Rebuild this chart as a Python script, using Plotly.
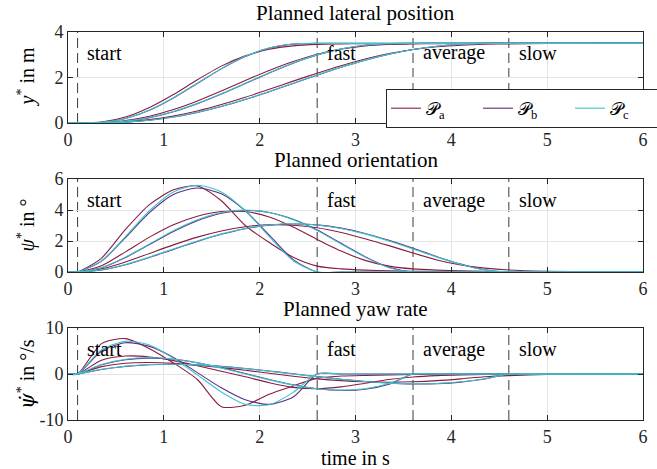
import plotly.graph_objects as go

# ---------------- data ----------------
T = [0, 0.1, 0.35, 0.6, 0.85, 1.1, 1.35, 1.6, 1.85, 2.1, 2.35, 2.6, 2.85, 3.1,
     3.35, 3.6, 3.85, 4.1, 4.35, 4.6, 5.0, 5.5, 6.0]

PLANNERS = ["a", "b", "c"]
PHASE_TIMES = [0.1, 2.6, 3.6, 4.6]
PHASE_LABELS = ["start", "fast", "average", "slow"]
X_TICKS = [0, 1, 2, 3, 4, 5, 6]

# lateral position y* in m
Y_FAST_A = [0, 0, 0.04, 0.26, 0.68, 1.25, 1.90, 2.50, 2.95, 3.24, 3.39, 3.455, 3.475, 3.487, 3.493, 3.497, 3.499, 3.5, 3.5, 3.5, 3.5, 3.5, 3.5]
Y_FAST_B = [0, 0, 0.03, 0.20, 0.56, 1.10, 1.74, 2.38, 2.92, 3.29, 3.465, 3.5, 3.5, 3.5, 3.5, 3.5, 3.5, 3.5, 3.5, 3.5, 3.5, 3.5, 3.5]
Y_FAST_C = [0, 0, 0.03, 0.20, 0.57, 1.11, 1.75, 2.39, 2.93, 3.30, 3.47, 3.5, 3.5, 3.5, 3.5, 3.5, 3.5, 3.5, 3.5, 3.5, 3.5, 3.5, 3.5]
Y_AVG_A = [0, 0, 0.016, 0.105, 0.295, 0.59, 0.97, 1.41, 1.87, 2.31, 2.70, 3.02, 3.25, 3.39, 3.455, 3.48, 3.49, 3.495, 3.498, 3.5, 3.5, 3.5, 3.5]
Y_AVG_B = [0, 0, 0.010, 0.078, 0.236, 0.496, 0.848, 1.272, 1.735, 2.2, 2.628, 2.987, 3.252, 3.416, 3.488, 3.5, 3.5, 3.5, 3.5, 3.5, 3.5, 3.5, 3.5]
Y_AVG_C = [0, 0, 0.011, 0.081, 0.243, 0.507, 0.862, 1.288, 1.75, 2.212, 2.638, 2.994, 3.257, 3.419, 3.489, 3.5, 3.5, 3.5, 3.5, 3.5, 3.5, 3.5, 3.5]
Y_SLOW_A = [0, 0, 0.008, 0.052, 0.150, 0.31, 0.53, 0.81, 1.13, 1.48, 1.84, 2.19, 2.52, 2.81, 3.05, 3.23, 3.35, 3.42, 3.46, 3.48, 3.493, 3.499, 3.5]
Y_SLOW_B = [0, 0, 0.005, 0.038, 0.120, 0.261, 0.464, 0.725, 1.034, 1.377, 1.74, 2.103, 2.448, 2.759, 3.024, 3.231, 3.375, 3.459, 3.495, 3.5, 3.5, 3.5, 3.5]
Y_SLOW_C = [0, 0, 0.0055, 0.040, 0.124, 0.267, 0.472, 0.735, 1.045, 1.388, 1.75, 2.112, 2.456, 2.765, 3.028, 3.233, 3.376, 3.460, 3.495, 3.5, 3.5, 3.5, 3.5]

# orientation psi* in deg
PSI_FAST_A = [0, 0, 0.9, 2.75, 4.35, 5.3, 5.55, 4.6, 3.0, 1.9, 0.95, 0.38, 0.2, 0.12, 0.08, 0.05, 0.03, 0.02, 0.01, 0, 0, 0, 0]
PSI_FAST_B = [0, 0, 0.70, 2.22, 3.83, 5.0, 5.42, 5.05, 3.95, 2.38, 0.80, 0, 0, 0, 0, 0, 0, 0, 0, 0, 0, 0, 0]
PSI_FAST_C = [0, 0, 0.73, 2.29, 3.95, 5.16, 5.60, 5.16, 3.95, 2.29, 0.73, 0, 0, 0, 0, 0, 0, 0, 0, 0, 0, 0, 0]
PSI_AVG_A = [0, 0, 0.4, 1.3, 2.25, 3.05, 3.6, 3.9, 3.9, 3.55, 2.9, 2.1, 1.35, 0.75, 0.38, 0.2, 0.12, 0.07, 0.04, 0.02, 0, 0, 0]
PSI_AVG_B = [0, 0, 0.27, 0.93, 1.77, 2.61, 3.31, 3.79, 3.97, 3.84, 3.40, 2.71, 1.85, 0.99, 0.30, 0, 0, 0, 0, 0, 0, 0, 0]
PSI_AVG_C = [0, 0, 0.28, 0.96, 1.81, 2.67, 3.37, 3.84, 4.0, 3.84, 3.37, 2.67, 1.81, 0.96, 0.28, 0, 0, 0, 0, 0, 0, 0, 0]
PSI_SLOW_A = [0, 0, 0.2, 0.65, 1.2, 1.75, 2.25, 2.65, 2.92, 3.05, 3.02, 2.85, 2.55, 2.15, 1.7, 1.22, 0.78, 0.45, 0.25, 0.13, 0.05, 0.01, 0]
PSI_SLOW_B = [0, 0, 0.13, 0.47, 0.94, 1.46, 1.97, 2.43, 2.79, 3.02, 3.10, 3.04, 2.83, 2.49, 2.04, 1.53, 0.99, 0.51, 0.15, 0, 0, 0, 0]
PSI_SLOW_C = [0, 0, 0.14, 0.49, 0.96, 1.49, 2.0, 2.46, 2.81, 3.03, 3.11, 3.03, 2.81, 2.46, 2.0, 1.49, 0.96, 0.49, 0.14, 0, 0, 0, 0]

# yaw rate dpsi* in deg/s
DPSI_FAST_A = [0, 0, 6.6, 7.7, 5.5, 2.4, -1.2, -7.1, -6.8, -4.4, -2.6, -0.9, -0.45, -0.3, -0.2, -0.12, -0.07, -0.04, -0.02, 0, 0, 0, 0]
DPSI_FAST_B = [0, 0, 5.0, 6.8, 6.0, 3.6, 0.3, -3.0, -5.6, -6.6, -5.0, 0, 0, 0, 0, 0, 0, 0, 0, 0, 0, 0, 0]
DPSI_FAST_C = [0, 0, 5.3, 7.1, 6.3, 3.4, -0.2, -3.9, -6.6, -6.7, -4.0, 0, 0, 0, 0, 0, 0, 0, 0, 0, 0, 0, 0]
DPSI_AVG_A = [0, 0, 3.0, 3.9, 3.7, 2.9, 1.8, 0.6, -0.6, -1.9, -2.9, -3.2, -2.8, -2.0, -1.2, -0.65, -0.35, -0.2, -0.1, -0.05, 0, 0, 0]
DPSI_AVG_B = [0, 0, 2.0, 3.1, 3.45, 3.2, 2.45, 1.35, 0.1, -1.2, -2.35, -3.2, -3.55, -3.3, -2.2, 0, 0, 0, 0, 0, 0, 0, 0]
DPSI_AVG_C = [0, 0, 2.08, 3.21, 3.53, 3.21, 2.41, 1.28, 0, -1.28, -2.41, -3.21, -3.53, -3.21, -2.08, 0, 0, 0, 0, 0, 0, 0, 0]
DPSI_SLOW_A = [0, 0, 1.6, 2.35, 2.5, 2.3, 1.9, 1.4, 0.8, 0.15, -0.5, -1.05, -1.45, -1.7, -1.8, -1.7, -1.45, -1.05, -0.6, -0.35, -0.12, -0.03, 0]
DPSI_SLOW_B = [0, 0, 0.98, 1.65, 2.02, 2.12, 1.99, 1.67, 1.21, 0.65, 0.05, -0.56, -1.13, -1.62, -1.98, -2.16, -2.1, -1.76, -1.1, 0, 0, 0, 0]
DPSI_SLOW_C = [0, 0, 1.03, 1.70, 2.05, 2.13, 1.98, 1.64, 1.17, 0.61, 0, -0.61, -1.17, -1.64, -1.98, -2.13, -2.05, -1.70, -1.03, 0, 0, 0, 0]

Y_TICKS = [[0, 2, 4], [0, 2, 4, 6], [-10, 0, 10]]
Y_TICKTEXT = [["0", "2", "4"], ["0", "2", "4", "6"], ["-10", "0", "10"]]
Y_RANGES = [[0, 4], [0, 6], [-10, 10]]
TITLES = ["Planned lateral position", "Planned orientation", "Planned yaw rate"]
YLABELS = ["<i>y</i><sup>*</sup> in m", "<i>ψ</i><sup>*</sup> in °",
           "<span style='font-family:DejaVu Serif'><i>ψ̇</i></span><sup>*</sup> in °/s"]

PANELS = [
    {"a": [Y_FAST_A, Y_AVG_A, Y_SLOW_A], "b": [Y_FAST_B, Y_AVG_B, Y_SLOW_B], "c": [Y_FAST_C, Y_AVG_C, Y_SLOW_C]},
    {"a": [PSI_FAST_A, PSI_AVG_A, PSI_SLOW_A], "b": [PSI_FAST_B, PSI_AVG_B, PSI_SLOW_B], "c": [PSI_FAST_C, PSI_AVG_C, PSI_SLOW_C]},
    {"a": [DPSI_FAST_A, DPSI_AVG_A, DPSI_SLOW_A], "b": [DPSI_FAST_B, DPSI_AVG_B, DPSI_SLOW_B], "c": [DPSI_FAST_C, DPSI_AVG_C, DPSI_SLOW_C]},
]

# ---------------- style ----------------
COLORS = {"a": "#8a1c3e", "b": "#5e2d82", "c": "#3ec3cc"}
FONT = "Liberation Serif"
AX = "#262626"
W, H = 657, 469
L, R, TOP, BOT = 68, 643, 32, 420
PANEL_PX = [(32, 123), (179, 272), (328, 420)]
ph = BOT - TOP


def ydom(p):
    return [(BOT - p[1]) / ph, (BOT - p[0]) / ph]


fig = go.Figure()
for i, panel in enumerate(PANELS):
    xa = "x" if i == 0 else f"x{i+1}"
    ya = "y" if i == 0 else f"y{i+1}"
    for p in PLANNERS:
        for k, vals in enumerate(panel[p]):
            fig.add_trace(go.Scatter(
                x=T, y=vals, mode="lines", xaxis=xa, yaxis=ya,
                line=dict(color=COLORS[p], width=1.1, shape="spline", smoothing=0.7),
                name=f"𝒫<sub>{p}</sub>", legendgroup=p,
                showlegend=(i == 0 and k == 0), hoverinfo="skip"))

layout = dict(
    width=W, height=H, margin=dict(l=L, r=W - R, t=TOP, b=H - BOT, autoexpand=False),
    paper_bgcolor="white", plot_bgcolor="white",
    font=dict(family=FONT, size=18, color=AX),
    legend=dict(orientation="h", x=(386 - L) / (R - L), y=(BOT - 89) / ph,
                xanchor="left", yanchor="top", bordercolor=AX, borderwidth=1,
                bgcolor="white", font=dict(size=18, family=FONT, color="black"),
                entrywidth=47, entrywidthmode="pixels", tracegroupgap=0),
    showlegend=True,
)
annotations = []
shapes = []
for i in range(3):
    xk = "xaxis" if i == 0 else f"xaxis{i+1}"
    yk = "yaxis" if i == 0 else f"yaxis{i+1}"
    ya = "y" if i == 0 else f"y{i+1}"
    xa = "x" if i == 0 else f"x{i+1}"
    common = dict(ticks="inside", ticklen=5, tickcolor=AX, showline=True,
                  linecolor=AX, linewidth=1, mirror="ticks", showgrid=True,
                  gridcolor="#e4e4e4", gridwidth=1, zeroline=False,
                  tickfont=dict(size=18, family=FONT, color=AX))
    layout[xk] = dict(domain=[0, 1], range=[0, 6], anchor=ya, tickvals=X_TICKS, **common)
    layout[yk] = dict(domain=ydom(PANEL_PX[i]), range=Y_RANGES[i], anchor=xa,
                      tickvals=Y_TICKS[i], ticktext=Y_TICKTEXT[i], **common)
    for t, lab in zip(PHASE_TIMES, PHASE_LABELS):
        shapes.append(dict(type="line", xref=xa, yref=f"{ya} domain", x0=t, x1=t,
                           y0=0, y1=1, line=dict(color="#3a3a3a", width=1, dash="10px,5px"),
                           layer="below"))
        annotations.append(dict(x=t + 0.08, y=0.77, xref=xa, yref=f"{ya} domain",
                                text=lab, showarrow=False, xanchor="left", yanchor="middle",
                                font=dict(size=20, family=FONT, color="black")))
    top_px = PANEL_PX[i][0]
    annotations.append(dict(x=0.5, y=(BOT - (top_px - 19)) / ph, xref="paper", yref="paper",
                            text=TITLES[i], showarrow=False, xanchor="center", yanchor="middle",
                            font=dict(size=21, family=FONT, color="black")))
    mid = (PANEL_PX[i][0] + PANEL_PX[i][1]) / 2
    annotations.append(dict(x=(26 - L) / (R - L), y=(BOT - mid) / ph, xref="paper", yref="paper",
                            text=YLABELS[i], showarrow=False, textangle=-90,
                            xanchor="center", yanchor="middle",
                            font=dict(size=20, family=FONT, color="black")))
annotations.append(dict(x=0.5, y=(BOT - 458) / ph, xref="paper", yref="paper",
                        text="time in s", showarrow=False, xanchor="center", yanchor="middle",
                        font=dict(size=20, family=FONT, color="black")))
layout["annotations"] = annotations
layout["shapes"] = shapes
fig.update_layout(**layout)
fig.write_html("out.html")
